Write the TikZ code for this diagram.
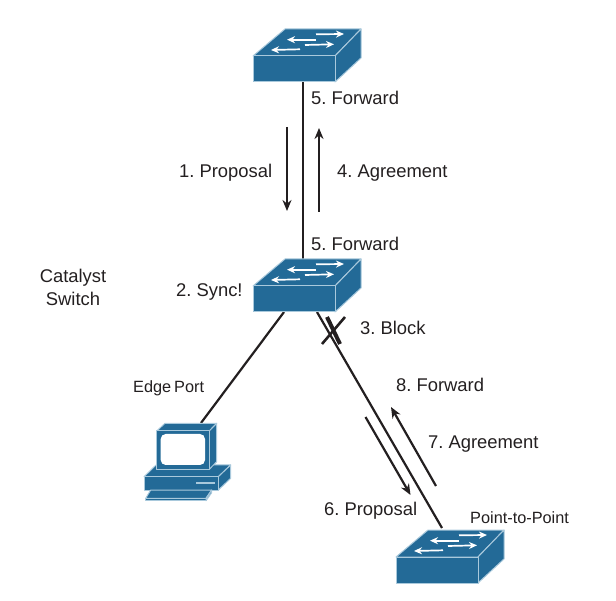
\documentclass[tikz,border=0pt]{standalone}
\usepackage{fontspec}
\setmainfont[WordSpace=0.65]{Liberation Sans}
\usetikzlibrary{arrows.meta}
\definecolor{ciscoblue}{HTML}{236A97}
\definecolor{edgeblue}{HTML}{A9C9DC}
\definecolor{inkdark}{HTML}{231F20}
\tikzset{
  x=1pt,y=-1pt,
  face/.style={fill=ciscoblue,draw=edgeblue,line width=1pt,line join=round},
  whitearrow/.style={draw=white,line width=1.7pt,-{Stealth[length=8pt,width=7pt]}},
  lbl/.style={font=\fontsize{18.4}{21}\selectfont,text=inkdark,anchor=base west,inner sep=0pt},
  smalllbl/.style={font=\fontsize{16.3}{19}\selectfont,text=inkdark,anchor=base west,inner sep=0pt},
  centerlbl/.style={lbl,anchor=base},
  link/.style={draw=inkdark,line width=2.2pt},
  flow/.style={draw=inkdark,line width=2.2pt,-{Stealth[length=11pt,width=9pt]}},
  netswitch/.pic={
    \path[face] (0,0)--(32,-27)--(108,-27)--(82,0)--cycle;
    \path[face] (82,0)--(108,-27)--(108,2)--(82,26)--cycle;
    \path[face] (0,0)--(82,0)--(82,26)--(0,26)--cycle;
    \draw[whitearrow] (63,-21.7)--(91,-22);
    \draw[whitearrow] (63,-16.3)--(34,-16.3);
    \draw[whitearrow] (52,-11)--(81,-11.7);
    \draw[whitearrow] (47,-6.7)--(18,-6);
  },
  desktop/.pic={
    % coordinates are in pixels of the reference
    \path[face] (144,476.7)--(156,465)--(230.7,465)--(218.3,476.7)--cycle;
    \path[face] (218.3,476.7)--(230.7,465)--(230.7,478.3)--(218.3,490)--cycle;
    \path[face] (144,476.7)--(218.3,476.7)--(218.3,490)--(144,490)--cycle;
    \draw[draw=edgeblue,line width=1.4pt] (196,483)--(215,483);
    \path[face] (156.7,431)--(165,423.3)--(216.7,423.3)--(209.3,431)--cycle;
    \path[face] (209.3,431)--(216.7,423.3)--(216.7,461.7)--(209.3,469.3)--cycle;
    \path[face] (156.7,431)--(209.3,431)--(209.3,469.3)--(156.7,469.3)--cycle;
    \fill[white,rounded corners=5pt] (160.7,434)rectangle(205,465);
    \path[face] (150.7,490)--(211.7,490)--(206,498.3)--(145.7,498.3)--cycle;
    \path[face] (145.7,498.3)--(206,498.3)--(206,500.7)--(145.7,500.7)--cycle;
    \path[face] (206,500.7)--(206,498.3)--(211.7,490)--(211.7,492.7)--cycle;
  },
}
\begin{document}
\begin{tikzpicture}
\useasboundingbox (0,0) rectangle (616,601);
% connectors sit behind the devices
\coordinate (s1b) at (303,82);
\coordinate (s2t) at (303,260);
\coordinate (s2l) at (284,312);
\coordinate (s2r) at (317,312);
\coordinate (pct) at (201,423);
\coordinate (s3t) at (442,528);
\draw[link] (s1b)--(s2t);
\draw[link] (s2l)--(pct);
\draw[link] (s2r)--(s3t);

\pic (sw1) at (253,56) {netswitch};
\pic (sw2) at (253,286) {netswitch};
\pic (sw3) at (396,557) {netswitch};
\pic (pc) at (0,0) {desktop};

% flow arrows
\coordinate (a1s) at (287,127); \coordinate (a1e) at (287,211);
\coordinate (a4s) at (319,212); \coordinate (a4e) at (319,128);
\coordinate (a6s) at (365.5,417); \coordinate (a6e) at (410.5,495);
\coordinate (a7s) at (436,486); \coordinate (a7e) at (391,407);
\draw[flow] (a1s)--(a1e);
\draw[flow] (a4s)--(a4e);
\draw[flow] (a6s)--(a6e);
\draw[flow] (a7s)--(a7e);

% block mark
\coordinate (x1) at (327,317); \coordinate (x2) at (340,344);
\coordinate (x3) at (345,317); \coordinate (x4) at (322,344);
\draw[draw=inkdark,line width=4pt] (x1)--(x2);
\draw[draw=inkdark,line width=2.6pt] (x3)--(x4);

% labels
\node[lbl] (l5a) at (311,104.5) {5. Forward};
\node[lbl] (l1) at (179,177.5) {1. Proposal};
\node[lbl] (l4) at (337,177.5) {4. Agreement};
\node[lbl] (l5b) at (311,250.5) {5. Forward};
\node[centerlbl] (lc1) at (73,283) {Catalyst};
\node[centerlbl] (lc2) at (73,306) {Switch};
\node[lbl] (l2) at (176,296.5) {2. Sync!};
\node[lbl] (l3) at (360,334.5) {3. Block};
\node[smalllbl] (ledge) at (133,393) {Edge Port};
\node[lbl] (l8) at (396,391.5) {8. Forward};
\node[lbl] (l7) at (428,448.5) {7. Agreement};
\node[lbl] (l6) at (324,515.5) {6. Proposal};
\node[smalllbl] (lptp) at (470,523) {Point-to-Point};
\end{tikzpicture}
\end{document}
